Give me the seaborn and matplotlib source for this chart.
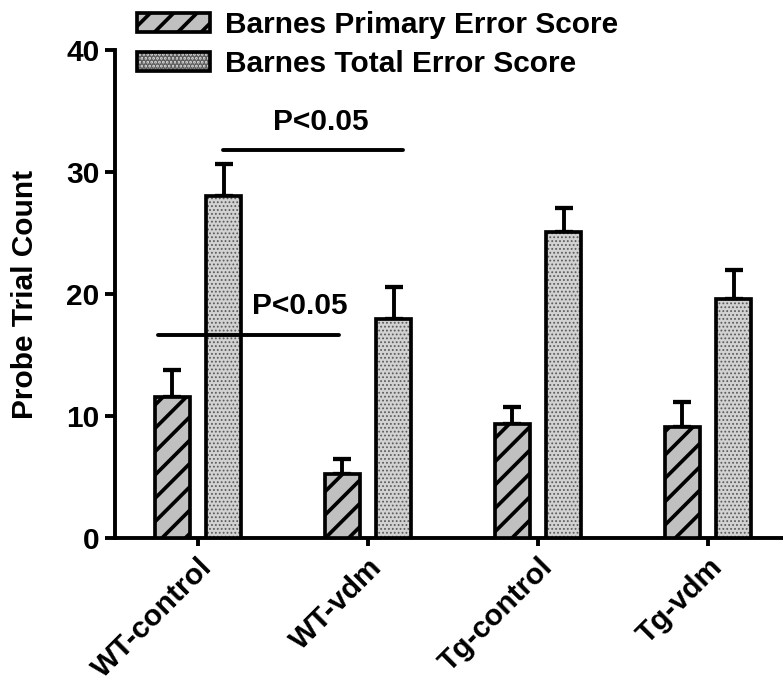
import numpy as np
import pandas as pd
import matplotlib
matplotlib.use("Agg")
import matplotlib.pyplot as plt
from matplotlib.patches import Patch, Rectangle
from matplotlib.legend_handler import HandlerTuple
import seaborn as sns

# ---- data ----
groups = ["WT-control", "WT-vdm", "Tg-control", "Tg-vdm"]
measures = ["Barnes Primary Error Score", "Barnes Total Error Score"]
primary = [11.6, 5.3, 9.4, 9.1]
primary_err = [2.2, 1.2, 1.4, 2.05]
total = [28.1, 18.0, 25.1, 19.6]
total_err = [2.6, 2.65, 1.95, 2.4]
y_ticks = [0, 10, 20, 30, 40]
sig_labels = ["P<0.05", "P<0.05"]
sig_line_y = [31.85, 16.7]
sig_line_x = [(0.147, 1.206), (-0.235, 0.83)]
sig_text_xy = [(0.722, 33.5), (0.597, 18.4)]

sns.set_style("ticks")
plt.rcParams["font.family"] = ["Liberation Sans", "DejaVu Sans"]
plt.rcParams["font.weight"] = "bold"
for k in ["text.color", "axes.labelcolor", "xtick.color", "ytick.color", "axes.edgecolor"]:
    plt.rcParams[k] = "black"
plt.rcParams["hatch.linewidth"] = 1.9

DPI = 140
FS = 15.4
fig = plt.figure(figsize=(783 / DPI, 683 / DPI), dpi=DPI)
ax = fig.add_axes([0.1469, 0.2116, 0.853, 0.7145])

df = pd.DataFrame({
    "group": groups * 2,
    "measure": [measures[0]] * 4 + [measures[1]] * 4,
    "value": primary + total,
})

c_prim = "#c0c0c0"
c_tot = "#d2d2d2"
HATCH_P = "//"
HATCH_T = "......"
sns.barplot(data=df, x="group", y="value", hue="measure", order=groups,
            hue_order=measures, palette=[c_prim, c_tot], width=0.605, gap=0.31,
            edgecolor="black", linewidth=1.9, errorbar=None, legend=False,
            saturation=1, ax=ax)

prim_bars = list(ax.containers[0])
tot_bars = list(ax.containers[1])

for p in prim_bars:
    p.set_hatch(HATCH_P)
    if hasattr(p, "set_hatch_linewidth"):
        p.set_hatch_linewidth(1.9)
    p.set_zorder(3)

for p in tot_bars:
    p.set_hatch(HATCH_T)
    p.set_edgecolor("#5a5a5a")
    p.set_linewidth(0)
    if hasattr(p, "set_hatch_linewidth"):
        p.set_hatch_linewidth(0.6)
    p.set_zorder(3)
    ax.add_patch(Rectangle((p.get_x(), p.get_y()), p.get_width(), p.get_height(),
                           fill=False, edgecolor="black", linewidth=1.9, zorder=3.5))

# error bars (upper only)
for bars, vals, errs in [(prim_bars, primary, primary_err), (tot_bars, total, total_err)]:
    xs = [b.get_x() + b.get_width() / 2 for b in bars]
    ax.errorbar(xs, vals, yerr=[np.zeros(len(errs)), errs], fmt="none",
                ecolor="black", elinewidth=2.0, capsize=4.4, capthick=2.2, zorder=2)

# significance
for lab, ly, (x0, x1), (tx, ty) in zip(sig_labels, sig_line_y, sig_line_x, sig_text_xy):
    ax.plot([x0, x1], [ly, ly], color="black", lw=2.0, solid_capstyle="round", zorder=5)
    ax.text(tx, ty, lab, ha="center", va="baseline", fontsize=FS, fontweight="bold",
            color="black")

ax.set_ylim(0, 40)
ax.set_xlim(-0.488, 3.441)
ax.set_yticks(y_ticks)
ax.set_yticklabels([str(t) for t in y_ticks], fontsize=FS, fontweight="bold")
ax.set_xticks(range(len(groups)))
ax.set_xticklabels(groups, rotation=45, ha="right", va="top",
                   rotation_mode="anchor", fontsize=FS, fontweight="bold")
ax.set_xlabel("")
ax.set_ylabel("Probe Trial Count", fontsize=FS, fontweight="bold", labelpad=14)

for s in ["top", "right"]:
    ax.spines[s].set_visible(False)
for s in ["left", "bottom"]:
    ax.spines[s].set_linewidth(2.0)
ax.tick_params(axis="y", direction="out", length=5, width=2.0, pad=3, colors="black")
ax.tick_params(axis="x", direction="out", length=4, width=2.0, pad=3.5, colors="black")

# legend
h1 = Patch(facecolor=c_prim, edgecolor="black", hatch=HATCH_P, linewidth=1.9)
h2a = Patch(facecolor=c_tot, edgecolor="#5a5a5a", hatch=HATCH_T, linewidth=0)
h2b = Patch(facecolor="none", edgecolor="black", linewidth=1.9)
if hasattr(h1, "set_hatch_linewidth"):
    h1.set_hatch_linewidth(1.9)
    h2a.set_hatch_linewidth(0.6)
leg = fig.legend([h1, (h2a, h2b)], measures, loc="upper left",
                 bbox_to_anchor=(137 / 783, 1 - 11 / 683), frameon=False,
                 prop={"weight": "bold", "size": FS},
                 handlelength=2.45, handleheight=0.62, handletextpad=0.5,
                 labelspacing=0.36, borderpad=0, borderaxespad=0,
                 handler_map={tuple: HandlerTuple(ndivide=1, pad=0)})
for t in leg.get_texts():
    t.set_color("black")

fig.savefig("out.png", dpi=DPI)
